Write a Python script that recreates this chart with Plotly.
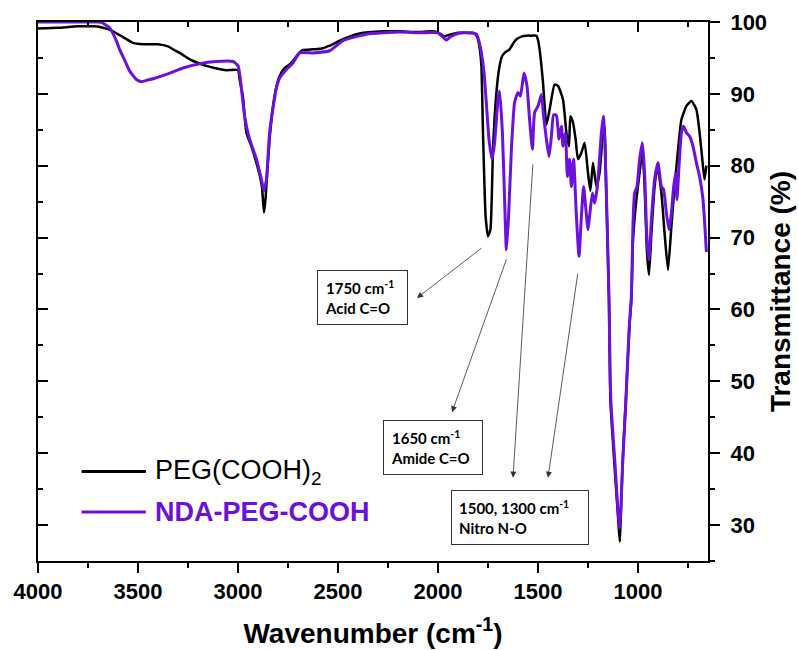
import plotly.graph_objects as go

# ---------------- data ----------------
peg_wn = [4000, 3900, 3800, 3720, 3690, 3650, 3625, 3575, 3525, 3475, 3400, 3350, 3325, 3280, 3241,
          3200, 3158, 3100, 3058, 3000, 2992, 2975, 2958, 2933, 2908, 2890, 2880, 2870, 2862, 2855,
          2842, 2825, 2808, 2792, 2767, 2742, 2725, 2700, 2675, 2625, 2580, 2542, 2475, 2392, 2275,
          2192, 2100, 2025, 1990, 1970, 1945, 1900, 1858, 1825, 1810, 1800, 1790, 1783, 1775, 1762,
          1750, 1738, 1725, 1708, 1692, 1680, 1667, 1642, 1620, 1608, 1580, 1558, 1530, 1508, 1500,
          1492, 1475, 1458, 1442, 1417, 1400, 1375, 1358, 1345, 1338, 1325, 1312, 1300, 1283, 1267,
          1250, 1238, 1225, 1208, 1192, 1180, 1172, 1165, 1158, 1145, 1138, 1117, 1100, 1091, 1086,
          1078, 1061, 1042, 1033, 1025, 1008, 992, 978, 967, 955, 945, 933, 917, 903, 883,
          867, 850, 833, 817, 800, 783, 758, 733, 708, 692, 675, 667, 658]
peg_t = [99.1, 99.2, 99.4, 99.4, 99.3, 99.0, 98.7, 97.9, 97.1, 96.9, 96.9, 96.6, 96.2, 95.5, 94.8,
         94.3, 93.9, 93.5, 93.3, 93.3, 92.0, 89.5, 84.6, 82.7, 80.4, 78.5, 77.0, 73.5, 75.5, 78.5,
         83.7, 88.3, 91.0, 92.5, 93.6, 94.1, 94.6, 95.5, 96.1, 96.2, 96.3, 96.7, 97.6, 98.4, 98.7,
         98.7, 98.6, 98.7, 98.4, 98.0, 98.2, 98.5, 98.5, 98.5, 98.2, 97.6, 96.0, 93.9, 84.6, 73.0,
         70.2, 71.1, 82.3, 90.2, 93.9, 95.2, 95.7, 96.2, 97.2, 97.6, 98.0, 98.1, 98.1, 98.1, 97.5,
         96.2, 91.6, 85.7, 87.8, 91.3, 91.1, 89.2, 84.6, 82.7, 86.9, 86.0, 83.7, 80.9, 81.8, 83.2,
         79.0, 76.5, 80.4, 77.1, 79.0, 83.2, 86.2, 84.0, 75.3, 61.4, 47.4, 38.1, 31.2, 27.7, 31.2,
         38.0, 47.4, 58.0, 61.4, 69.7, 75.3, 79.0, 82.2, 77.1, 67.9, 64.8, 70.6, 77.1, 79.9, 76.2,
         70.6, 65.5, 71.6, 77.1, 82.2, 86.4, 88.3, 89.0, 87.8, 84.6, 79.9, 78.1, 80.0]

nda_wn = [4000, 3800, 3700, 3680, 3642, 3610, 3592, 3565, 3542, 3508, 3483, 3455, 3425, 3358, 3275,
          3192, 3108, 3025, 3000, 2988, 2967, 2942, 2908, 2883, 2870, 2858, 2842, 2825, 2808, 2790,
          2758, 2725, 2692, 2625, 2542, 2475, 2358, 2192, 2100, 2000, 1975, 1958, 1940, 1900, 1858,
          1808, 1795, 1783, 1770, 1762, 1745, 1730, 1717, 1700, 1692, 1678, 1667, 1658, 1647, 1633,
          1617, 1600, 1588, 1570, 1555, 1542, 1528, 1517, 1500, 1483, 1472, 1458, 1445, 1433, 1422,
          1408, 1395, 1383, 1375, 1363, 1353, 1342, 1333, 1322, 1308, 1295, 1283, 1272, 1262, 1250,
          1242, 1228, 1217, 1205, 1195, 1183, 1173, 1165, 1155, 1145, 1136, 1115, 1100, 1092, 1086,
          1077, 1060, 1045, 1033, 1025, 1017, 1005, 992, 978, 967, 955, 945, 933, 917, 900,
          883, 872, 858, 845, 833, 822, 812, 805, 795, 783, 772, 758, 742, 725, 708,
          692, 675, 658]
nda_t = [100.0, 100.0, 100.0, 99.9, 99.2, 97.5, 96.2, 94.6, 93.2, 92.0, 91.7, 91.9, 92.1, 92.7, 93.6,
         94.2, 94.5, 94.5, 93.9, 92.0, 86.9, 83.7, 80.9, 78.1, 76.5, 78.1, 84.6, 88.0, 90.8, 92.3,
         93.4, 94.3, 95.7, 95.7, 96.0, 97.4, 98.3, 98.6, 98.5, 98.5, 97.9, 97.5, 97.9, 98.4, 98.5,
         98.3, 97.3, 95.7, 93.0, 90.2, 83.7, 80.9, 83.2, 89.2, 90.4, 84.6, 75.3, 68.3, 73.0, 82.3,
         88.8, 90.2, 89.7, 92.9, 91.1, 86.4, 82.3, 87.4, 88.3, 89.9, 86.9, 83.7, 81.3, 84.1, 87.1,
         87.0, 83.7, 85.5, 82.7, 84.6, 78.5, 80.9, 77.1, 80.9, 73.0, 67.4, 73.0, 77.1, 74.4, 71.1,
         73.0, 76.2, 74.8, 76.7, 79.9, 84.6, 86.9, 82.3, 73.0, 61.4, 47.5, 38.5, 32.0, 29.5, 32.0,
         38.5, 47.5, 57.0, 62.0, 72.0, 76.2, 77.1, 80.9, 83.2, 79.0, 69.7, 66.9, 72.5, 78.1, 80.4,
         77.1, 76.7, 73.4, 71.1, 73.4, 77.0, 79.0, 75.3, 79.9, 84.6, 85.5, 84.6, 84.1, 82.7, 80.4,
         78.5, 75.3, 68.0]

series_names = ["PEG(COOH)<sub>2</sub>", "<b>NDA-PEG-COOH</b>"]
series_colors = ["#000000", "#6C10DC"]

x_ticks = [4000, 3500, 3000, 2500, 2000, 1500, 1000]
y_ticks = [30, 40, 50, 60, 70, 80, 90, 100]

# annotation boxes: label lines, position (left x, top y in data units)
box_labels = ["<b>1750 cm<sup>-1</sup></b><br><b>Acid C=O</b>",
              "<b>1650 cm<sup>-1</sup></b><br><b>Amide C=O</b>",
              "<b>1500, 1300 cm<sup>-1</sup></b><br><b>Nitro N-O</b>"]
box_x = [2605, 2275, 1935]
box_y = [65.5, 44.6, 34.9]
box_w = [75, 84, 122]

# arrows: tail (at peak) -> head (towards box)
arrow_tail_x = [1775, 1655, 1525, 1300]
arrow_tail_y = [68.7, 67.2, 80.4, 65.2]
arrow_head_x = [2105, 1930, 1625, 1450]
arrow_head_y = [61.6, 45.7, 36.6, 36.6]

FONT = "Liberation Sans"

fig = go.Figure()
fig.add_trace(go.Scatter(x=peg_wn, y=peg_t, mode="lines", name=series_names[0],
                         line=dict(color=series_colors[0], width=2.5, shape="spline",
                                   smoothing=0.5), showlegend=False))
fig.add_trace(go.Scatter(x=nda_wn, y=nda_t, mode="lines", name=series_names[1],
                         line=dict(color=series_colors[1], width=3, shape="spline",
                                   smoothing=0.5), showlegend=False))
# helper trace so the mirrored (inward tick) axes are drawn
fig.add_trace(go.Scatter(x=[None], y=[None], xaxis="x2", yaxis="y2", showlegend=False,
                         hoverinfo="skip"))

xr = [4000, 650]
yr = [25, 100]
tickf = dict(family=FONT, size=22, color="black", weight="bold")

fig.update_layout(
    width=798, height=650,
    margin=dict(l=38, r=90, t=22, b=89, autoexpand=False),
    plot_bgcolor="white", paper_bgcolor="white",
    showlegend=False,
    xaxis=dict(range=xr, autorange=False, automargin=False, showline=True, linewidth=2,
               linecolor="black",
               mirror=True, ticks="outside", ticklen=10, tickwidth=2, tickcolor="black",
               tickvals=x_ticks, ticktext=[str(v) for v in x_ticks],
               minor=dict(ticks="outside", ticklen=5, tickwidth=2, tickcolor="black",
                          dtick=250, tick0=0),
               showgrid=False, zeroline=False, tickfont=tickf,
               title=dict(text="Wavenumber (cm<sup>-1</sup>)", standoff=20,
                          font=dict(family=FONT, size=28, color="black", weight="bold"))),
    yaxis=dict(range=yr, autorange=False, automargin=False, side="right", showline=True,
               linewidth=2,
               linecolor="black", mirror=True, ticks="outside", ticklen=10, tickwidth=2,
               tickcolor="black", tickvals=y_ticks, ticktext=[str(v) for v in y_ticks],
               minor=dict(ticks="outside", ticklen=5, tickwidth=2, tickcolor="black",
                          dtick=5, tick0=0),
               showgrid=False, zeroline=False, tickfont=tickf, ticklabelstandoff=6,
               title=dict(text="Transmittance (%)", standoff=4,
                          font=dict(family=FONT, size=28, color="black", weight="bold"))),
    xaxis2=dict(range=xr, autorange=False, overlaying="x", side="top", anchor="y2",
                automargin=False,
                ticks="inside", ticklen=10, tickwidth=2, tickcolor="black", tickvals=x_ticks,
                minor=dict(ticks="inside", ticklen=5, tickwidth=2, tickcolor="black",
                           dtick=250, tick0=0),
                showticklabels=False, showline=False, showgrid=False, zeroline=False),
    yaxis2=dict(range=yr, autorange=False, overlaying="y", side="left", anchor="x2",
                automargin=False,
                ticks="inside", ticklen=10, tickwidth=2, tickcolor="black", tickvals=y_ticks,
                minor=dict(ticks="inside", ticklen=5, tickwidth=2, tickcolor="black",
                           dtick=5, tick0=0),
                showticklabels=False, showline=False, showgrid=False, zeroline=False),
)

annotations = []
for lab, bx, by, bw in zip(box_labels, box_x, box_y, box_w):
    annotations.append(dict(x=bx, y=by, xref="x", yref="y", xanchor="left", yanchor="top",
                            text=lab, showarrow=False, align="left", width=bw,
                            bordercolor="#333333", borderwidth=1, borderpad=7, bgcolor="white",
                            font=dict(family="Lato", size=15, color="black")))
for tx, ty, hx, hy in zip(arrow_tail_x, arrow_tail_y, arrow_head_x, arrow_head_y):
    annotations.append(dict(x=hx, y=hy, ax=tx, ay=ty, xref="x", yref="y", axref="x", ayref="y",
                            text="", showarrow=True, arrowhead=2, arrowsize=1.5, arrowwidth=0.8,
                            arrowcolor="#333333", standoff=0, startstandoff=0))

# legend drawn inside the plot (long line swatches like the reference)
leg_y = [0.166, 0.091]
shapes = []
for name, col, ly in zip(series_names, series_colors, leg_y):
    shapes.append(dict(type="line", xref="paper", yref="paper", x0=0.065, x1=0.161, y0=ly, y1=ly,
                       line=dict(color=col, width=3)))
    annotations.append(dict(x=0.172, y=ly, xref="paper", yref="paper", xanchor="left",
                            yanchor="middle", text=name, showarrow=False,
                            font=dict(family=FONT, size=27, color=col)))

fig.update_layout(annotations=annotations, shapes=shapes)
fig.write_html("out.html")
